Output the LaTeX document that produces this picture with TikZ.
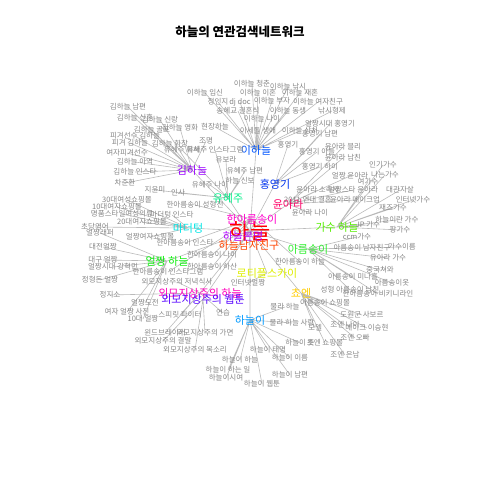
\documentclass[tikz,border=0pt]{standalone}
\usepackage{fontspec}
\setmainfont{Noto Sans CJK KR}
\usetikzlibrary{backgrounds}

\definecolor{cSky}{HTML}{FF0000}
\definecolor{cHa}{HTML}{FF00CC}
\definecolor{cHb}{HTML}{B000FF}
\definecolor{cHm}{HTML}{FF4400}
\definecolor{cAs}{HTML}{33EE33}
\definecolor{cGs}{HTML}{55EE00}
\definecolor{cRt}{HTML}{DDEE00}
\definecolor{cCe}{HTML}{FFCC00}
\definecolor{cYh}{HTML}{00EE88}
\definecolor{cMd}{HTML}{00E5E5}
\definecolor{cUj}{HTML}{11EE11}
\definecolor{cYa}{HTML}{FF0066}
\definecolor{cHy}{HTML}{0033EE}
\definecolor{cIh}{HTML}{0055FF}
\definecolor{cKh}{HTML}{9900FF}
\definecolor{cWm}{HTML}{FF00BB}
\definecolor{cWt}{HTML}{5500FF}
\definecolor{cHn}{HTML}{0099FF}

\tikzset{
  leaf/.style={text=black!48, font=\fontsize{7.5}{7.5}\selectfont, inner sep=0pt},
  hub/.style={font=\fontsize{11}{11}\selectfont, inner sep=0pt},
  edge/.style={draw=black!27, line width=0.6pt},
}

\begin{document}
\begin{tikzpicture}[x=1pt,y=-1pt]
    \useasboundingbox (0,0) rectangle (480,480);
    \node[font=\fontsize{12.5}{12.5}\selectfont\bfseries] (title) at (240,32) {하늘의 연관검색네트워크};

    % hubs
    \node[hub, text=cSky, font=\fontsize{22}{22}\selectfont] (sky) at (250,231) {하늘};
    \node[hub, text=cHa] (ha) at (252,219) {한아름송이};
    \node[hub, text=cHb] (hb) at (243,236) {하늘본명};
    \node[hub, text=cHm] (hm) at (249,245) {하늘남자친구};
    \node[hub, text=cAs] (as) at (308,249) {아름송이};
    \node[hub, text=cGs] (gs) at (337,227) {가수 하늘};
    \node[hub, text=cRt] (rt) at (267,273) {로티플스카이};
    \node[hub, text=cCe] (ce) at (301,293) {쵸엔};
    \node[hub, text=cYh] (yh) at (228,198) {유혜주};
    \node[hub, text=cMd] (md) at (188,228) {마더텅};
    \node[hub, text=cUj] (uj) at (167,261) {얼짱 하늘};
    \node[hub, text=cYa] (ya) at (288,204) {윤아라};
    \node[hub, text=cHy] (hy) at (275,184) {홍영기};
    \node[hub, text=cIh] (ih) at (256,150) {이하늘};
    \node[hub, text=cKh] (kh) at (192,170) {김하늘};
    \node[hub, text=cWm] (wm) at (200,293) {외모지상주의 하늘};
    \node[hub, text=cWt] (wt) at (203,299) {외모지상주의 웹툰};
    \node[hub, text=cHn] (hn) at (250,320) {하늘이};

    % leaves of 이하늘
    \node[leaf] (ih1) at (252,84) {이하늘 청춘};
    \node[leaf] (ih2) at (288,87) {이하늘 낚시};
    \node[leaf] (ih3) at (205,93) {이하늘 임신};
    \node[leaf] (ih4) at (258,93) {이하늘 이혼};
    \node[leaf] (ih5) at (300,93) {이하늘 재혼};
    \node[leaf] (ih6) at (218,102) {정인지};
    \node[leaf] (ih7) at (240,102) {dj doc};
    \node[leaf] (ih8) at (272,101) {이하늘 부자};
    \node[leaf] (ih9) at (318,102) {이하늘 여자친구};
    \node[leaf] (ih10) at (238,111) {송혜교 결혼식};
    \node[leaf] (ih11) at (288,111) {이하늘 동생};
    \node[leaf] (ih12) at (332,111) {낚시형제};
    \node[leaf] (ih13) at (215,127) {현장하늘};
    \node[leaf] (ih14) at (258,131) {이세돌 생애};
    \node[leaf] (ih15) at (262,119) {이하늘 나이};
    \node[leaf] (ih16) at (300,131) {이하늘 상처};

    % leaves of 김하늘
    \node[leaf] (kh1) at (128,107) {김하늘 남편};
    \node[leaf] (kh2) at (135,118) {김하늘 신혼};
    \node[leaf] (kh3) at (160,120) {김하늘 신랑};
    \node[leaf] (kh4) at (152,130) {김하늘 골프};
    \node[leaf] (kh5) at (135,136) {피겨선수 김하늘};
    \node[leaf] (kh6) at (130,143) {피겨 김하늘};
    \node[leaf] (kh7) at (170,144) {김하늘 화장};
    \node[leaf] (kh8) at (127,153) {여자피겨선수};
    \node[leaf] (kh9) at (135,162) {김하늘 아역};
    \node[leaf] (kh10) at (135,172) {김하늘 인스타};
    \node[leaf] (kh11) at (125,183) {차준환};
    \node[leaf] (kh12) at (206,141) {조명};
    \node[leaf] (kh13) at (180,128) {김하늘 영화};

    % leaves of 유혜주
    \node[leaf] (yh1) at (182,150) {유혜주 회사};
    \node[leaf] (yh2) at (215,150) {유혜주 인스타그램};
    \node[leaf] (yh3) at (226,160) {유보라};
    \node[leaf] (yh4) at (245,171) {유혜주 남편};
    \node[leaf] (yh5) at (155,190) {지윤미};
    \node[leaf] (yh6) at (178,193) {인사};
    \node[leaf] (yh7) at (210,185) {유혜주 나이};
    \node[leaf] (yh8) at (240,181) {하늘 신보};

    % leaves of 마더텅
    \node[leaf] (md1) at (127,200) {30대여성쇼핑몰};
    \node[leaf] (md2) at (117,207) {10대여자쇼핑몰};
    \node[leaf] (md3) at (122,214) {명품스타일여성의류};
    \node[leaf] (md4) at (142,222) {20대여자쇼핑몰};
    \node[leaf] (md5) at (95,227) {초당영어};
    \node[leaf] (md6) at (150,237) {얼짱여자쇼핑몰};
    \node[leaf] (md7) at (172,215) {마더텅 인스타};

    % leaves of 한아름송이
    \node[leaf] (ha1) at (195,205) {한아름송이 성형전};
    \node[leaf] (ha2) at (185,243) {한아름송이 인스타};
    \node[leaf] (ha3) at (212,255) {한아름송이 나이};
    \node[leaf] (ha4) at (212,267) {한아름송이 하산};
    \node[leaf] (ha5) at (168,272) {한아름송이 인스타그램};
    \node[leaf] (ha6) at (300,262) {한아름송이 하늘};

    % leaves of 얼짱 하늘
    \node[leaf] (uj1) at (100,233) {얼짱래퍼};
    \node[leaf] (uj2) at (103,247) {대전얼짱};
    \node[leaf] (uj3) at (103,260) {대구 얼짱};
    \node[leaf] (uj4) at (113,267) {얼짱시대 강혁민};
    \node[leaf] (uj5) at (100,280) {정형돈 얼짱};
    \node[leaf] (uj6) at (145,303) {얼짱도전};
    \node[leaf] (uj7) at (127,312) {여자 얼짱 사진};
    \node[leaf] (uj8) at (143,319) {10대 얼짱};

    % leaves of 외모지상주의
    \node[leaf] (wm1) at (177,282) {외모지상주의 저녁식사};
    \node[leaf] (wm2) at (110,295) {정지소};
    \node[leaf] (wm3) at (180,315) {스피릿 파이터};
    \node[leaf] (wm4) at (223,313) {연습};
    \node[leaf] (wm5) at (165,333) {윈드브레이커};
    \node[leaf] (wt1) at (205,333) {외모지상주의 가면};
    \node[leaf] (wt2) at (163,341) {외모지상주의 결말};
    \node[leaf] (wt3) at (195,350) {외모지상주의 목소리};

    % leaves of 하늘이
    \node[leaf] (hn1) at (240,360) {하늘이 하늘};
    \node[leaf] (hn2) at (228,370) {하늘이 하는 일};
    \node[leaf] (hn3) at (226,378) {하늘이시여};
    \node[leaf] (hn4) at (290,375) {하늘이 남편};
    \node[leaf] (hn5) at (268,350) {하늘이 태명};
    \node[leaf] (hn6) at (290,358) {하늘이 이름};
    \node[leaf] (hn7) at (262,384) {하늘이 웹툰};
    \node[leaf] (hn8) at (285,307) {물라 하늘};
    \node[leaf] (hn9) at (292,323) {물라 하늘 사랑};
    \node[leaf] (hn10) at (300,343) {하늘이 뜻};

    % leaves of 쵸엔
    \node[leaf] (ce1) at (325,303) {아름송이 쇼핑몰};
    \node[leaf] (ce2) at (362,315) {도원군 사보르};
    \node[leaf] (ce3) at (345,325) {조엔 나이};
    \node[leaf] (ce4) at (367,328) {메이크 이승현};
    \node[leaf] (ce5) at (355,338) {조엔 오빠};
    \node[leaf] (ce6) at (325,343) {초엔 쇼핑몰};
    \node[leaf] (ce7) at (345,355) {조엔 은남};
    \node[leaf] (ce8) at (315,328) {모델};

    % leaves of 아름송이
    \node[leaf] (as1) at (357,237) {ccm가수};
    \node[leaf] (as2) at (362,248) {아름송이 남자친구};
    \node[leaf] (as3) at (402,247) {가수이름};
    \node[leaf] (as4) at (388,258) {유아라 가수};
    \node[leaf] (as5) at (380,270) {중국쳐와};
    \node[leaf] (as6) at (353,277) {아름송이 미나흘};
    \node[leaf] (as7) at (392,283) {아름송이옷};
    \node[leaf] (as8) at (350,290) {성형 아름송이 남친};
    \node[leaf] (as9) at (378,294) {한아름송이 비키니라인};
    \node[leaf] (rt1) at (248,283) {인터넷얼짱};

    % leaves of 가수 하늘
    \node[leaf] (gs1) at (368,225) {JP 가수};
    \node[leaf] (gs2) at (400,230) {팡가수};
    \node[leaf] (gs3) at (397,220) {하늘이란 가수};
    \node[leaf] (gs4) at (393,208) {재즈가수};
    \node[leaf] (gs5) at (413,200) {인터넷가수};
    \node[leaf] (gs6) at (400,190) {대관자살};
    \node[leaf] (gs7) at (385,175) {나는가수};
    \node[leaf] (gs8) at (383,165) {인기가수};
    \node[leaf] (gs9) at (368,182) {여가수};

    % leaves of 윤아라
    \node[leaf] (ya1) at (343,147) {윤아라 블리};
    \node[leaf] (ya2) at (343,158) {윤아라 남친};
    \node[leaf] (ya3) at (350,176) {얼짱 윤아라};
    \node[leaf] (ya4) at (353,190) {얼짱스타 윤아라};
    \node[leaf] (ya5) at (355,200) {윤아라 메이크업};
    \node[leaf] (ya6) at (318,190) {윤아라 소속사};
    \node[leaf] (ya7) at (308,200) {2011 연대 결혼};
    \node[leaf] (ya8) at (310,213) {윤아라 나이};

    % leaves of 홍영기
    \node[leaf] (hy1) at (330,124) {얼짱시대 홍영기};
    \node[leaf] (hy2) at (320,134) {홍영기 남편};
    \node[leaf] (hy3) at (288,145) {홍영기};
    \node[leaf] (hy4) at (317,152) {홍영기 아들};
    \node[leaf] (hy5) at (320,167) {홍영기 하이};

    \begin{scope}[on background layer]
     \draw[edge] (sky.center) -- (ha.center) (sky.center) -- (hb.center) (sky.center) -- (hm.center)
        (sky.center) -- (as.center) (sky.center) -- (gs.center) (sky.center) -- (rt.center)
        (sky.center) -- (ce.center) (sky.center) -- (yh.center) (sky.center) -- (md.center)
        (sky.center) -- (uj.center) (sky.center) -- (ya.center) (sky.center) -- (hy.center)
        (sky.center) -- (ih.center) (sky.center) -- (kh.center) (sky.center) -- (wm.center)
        (sky.center) -- (wt.center) (sky.center) -- (hn.center);
     \draw[edge] (ih.center) -- (ih1.center) (ih.center) -- (ih2.center) (ih.center) -- (ih3.center)
        (ih.center) -- (ih4.center) (ih.center) -- (ih5.center) (ih.center) -- (ih6.center)
        (ih.center) -- (ih7.center) (ih.center) -- (ih8.center) (ih.center) -- (ih9.center)
        (ih.center) -- (ih10.center) (ih.center) -- (ih11.center) (ih.center) -- (ih12.center)
        (ih.center) -- (ih13.center) (ih.center) -- (ih14.center) (ih.center) -- (ih15.center)
        (ih.center) -- (ih16.center);
     \draw[edge] (kh.center) -- (kh1.center) (kh.center) -- (kh2.center) (kh.center) -- (kh3.center)
        (kh.center) -- (kh4.center) (kh.center) -- (kh5.center) (kh.center) -- (kh6.center)
        (kh.center) -- (kh7.center) (kh.center) -- (kh8.center) (kh.center) -- (kh9.center)
        (kh.center) -- (kh10.center) (kh.center) -- (kh11.center) (kh.center) -- (kh12.center)
        (kh.center) -- (kh13.center);
     \draw[edge] (yh.center) -- (yh1.center) (yh.center) -- (yh2.center) (yh.center) -- (yh3.center)
        (yh.center) -- (yh4.center) (yh.center) -- (yh5.center) (yh.center) -- (yh6.center)
        (yh.center) -- (yh7.center) (yh.center) -- (yh8.center);
     \draw[edge] (md.center) -- (md1.center) (md.center) -- (md2.center) (md.center) -- (md3.center)
        (md.center) -- (md4.center) (md.center) -- (md5.center) (md.center) -- (md6.center)
        (md.center) -- (md7.center);
     \draw[edge] (ha.center) -- (ha1.center) (ha.center) -- (ha2.center) (ha.center) -- (ha3.center)
        (ha.center) -- (ha4.center) (ha.center) -- (ha5.center) (ha.center) -- (ha6.center);
     \draw[edge] (uj.center) -- (uj1.center) (uj.center) -- (uj2.center) (uj.center) -- (uj3.center)
        (uj.center) -- (uj4.center) (uj.center) -- (uj5.center) (uj.center) -- (uj6.center)
        (uj.center) -- (uj7.center) (uj.center) -- (uj8.center);
     \draw[edge] (wm.center) -- (wm1.center) (wm.center) -- (wm2.center) (wm.center) -- (wm3.center)
        (wm.center) -- (wm4.center) (wm.center) -- (wm5.center) (wt.center) -- (wt1.center)
        (wt.center) -- (wt2.center) (wt.center) -- (wt3.center);
     \draw[edge] (hn.center) -- (hn1.center) (hn.center) -- (hn2.center) (hn.center) -- (hn3.center)
        (hn.center) -- (hn4.center) (hn.center) -- (hn5.center) (hn.center) -- (hn6.center)
        (hn.center) -- (hn7.center) (hn.center) -- (hn8.center) (hn.center) -- (hn9.center)
        (hn.center) -- (hn10.center);
     \draw[edge] (ce.center) -- (ce1.center) (ce.center) -- (ce2.center) (ce.center) -- (ce3.center)
        (ce.center) -- (ce4.center) (ce.center) -- (ce5.center) (ce.center) -- (ce6.center)
        (ce.center) -- (ce7.center) (ce.center) -- (ce8.center);
     \draw[edge] (as.center) -- (as1.center) (as.center) -- (as2.center) (as.center) -- (as3.center)
        (as.center) -- (as4.center) (as.center) -- (as5.center) (as.center) -- (as6.center)
        (as.center) -- (as7.center) (as.center) -- (as8.center) (as.center) -- (as9.center)
        (rt.center) -- (rt1.center);
     \draw[edge] (gs.center) -- (gs1.center) (gs.center) -- (gs2.center) (gs.center) -- (gs3.center)
        (gs.center) -- (gs4.center) (gs.center) -- (gs5.center) (gs.center) -- (gs6.center)
        (gs.center) -- (gs7.center) (gs.center) -- (gs8.center) (gs.center) -- (gs9.center);
     \draw[edge] (ya.center) -- (ya1.center) (ya.center) -- (ya2.center) (ya.center) -- (ya3.center)
        (ya.center) -- (ya4.center) (ya.center) -- (ya5.center) (ya.center) -- (ya6.center)
        (ya.center) -- (ya7.center) (ya.center) -- (ya8.center);
     \draw[edge] (hy.center) -- (hy1.center) (hy.center) -- (hy2.center) (hy.center) -- (hy3.center)
        (hy.center) -- (hy4.center) (hy.center) -- (hy5.center);
    \end{scope}
\end{tikzpicture}
\end{document}
